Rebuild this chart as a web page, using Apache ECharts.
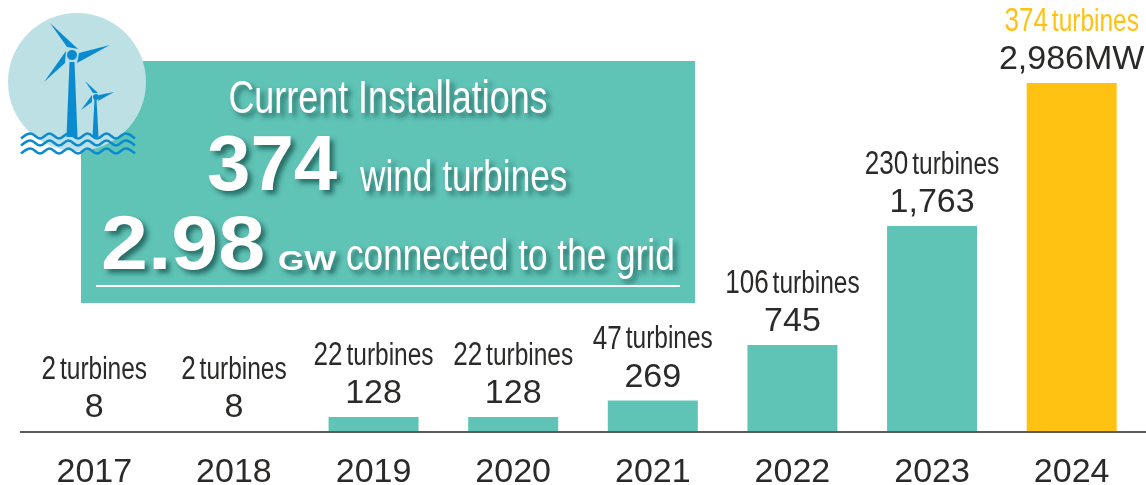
<!DOCTYPE html>
<html><head><meta charset="utf-8">
<style>html,body{margin:0;padding:0;background:#fff}#c{width:1146px;height:485px}</style>
<script src="https://cdn.jsdelivr.net/npm/echarts@6/dist/echarts.min.js"></script>
</head><body><div id="c"></div>
<script>
const years = ['2017','2018','2019','2020','2021','2022','2023','2024'];
const megawatts = [8,8,128,128,269,745,1763,2986];
const turbines = [2,2,22,22,47,106,230,374];
const TEAL='#5fc3b6', AMBER='#ffc212', INK='#2b2a29', BLUE='#0a8bd0', SKY='#bde0e5';
const SANS='"Liberation Sans",Arial,sans-serif';

const chart = echarts.init(document.getElementById('c'),null,{renderer:'canvas'});
function poly(points){ return {type:'polygon',z:14,shape:{points:points},style:{fill:BLUE}}; }
function wave(y){
  const pts=[];
  for(let k=0;k<=12;k++){ pts.push([21+k*9.5, y+(k%2?-2.5:2.5)]); }
  return {type:'polyline',z:15,shape:{points:pts,smooth:0.4},style:{fill:'none',stroke:BLUE,lineWidth:2.5}};
}
const shadow={textShadowColor:'rgba(20,80,75,.75)',textShadowBlur:5,textShadowOffsetX:4,textShadowOffsetY:4};
function txt(x,baseline,text,font,size,sx,align){
  return {type:'text',z:12,x:x,y:baseline-.83*size,scaleX:sx,
    style:Object.assign({text:text,font:font+' '+size+'px '+SANS,fill:'#fff',align:align||'left',verticalAlign:'top'},shadow)};
}
const graphic=[
  {type:'rect',z:5,shape:{x:81,y:61,width:614,height:242},style:{fill:TEAL}},
  {type:'circle',z:10,shape:{cx:77,cy:82,r:69},style:{fill:SKY}},
  poly([[69.5,62],[74.5,62],[77.5,137],[66.5,137]]),
  poly([[50,23],[78,49],[67,47]]),poly([[110,45],[77,63],[79,53]]),poly([[44,82],[66,51],[65,63]]),
  {type:'circle',z:14,shape:{cx:72,cy:55,r:5.5},style:{fill:BLUE,stroke:SKY,lineWidth:1}},
  poly([[94.5,99],[96.5,99],[98.5,137],[92.5,137]]),
  poly([[85,81],[98,93],[93,93]]),poly([[114,92],[98,101],[99,95]]),poly([[81,110],[92,95],[92,102]]),
  {type:'circle',z:14,shape:{cx:96,cy:97,r:3},style:{fill:BLUE}},
  wave(136),wave(143),wave(151),
  txt(388,115,'Current Installations','normal',46,.78,'center'),
  txt(207,194,'374','bold',78,1),
  txt(360,193,'wind turbines','normal',44,.80),
  txt(101,273,'2.98','bold',76,1.11),
  txt(278,271,'GW','bold',27,1.25),
  txt(346,272,'connected to the grid','normal',44,.80),
  {type:'line',z:12,shape:{x1:96,y1:286,x2:680,y2:286},style:{stroke:'#fff',lineWidth:2}},
  {type:'line',z:20,shape:{x1:20,y1:432,x2:1146,y2:432},style:{stroke:'#5a5a5a',lineWidth:2}}
];
const last=years.length-1;
function labelItem(params,api){
  const i=params.dataIndex, p=api.coord([api.value(0),api.value(1)]);
  const amber=i===last, base=p[1]-12;
  const mw=megawatts[i].toLocaleString('en-US')+(amber?'MW':'');
  const col=amber?AMBER:INK;
  return {type:'group',children:[
    {type:'text',x:p[0],y:base-38-.83*33,scaleX:.79,style:{
      text:'{n|'+turbines[i]+'}{t|turbines}',align:'center',verticalAlign:'top',
      rich:{n:{fontFamily:SANS,fontSize:33,fill:col,color:col,lineHeight:33},
            t:{fontFamily:SANS,fontSize:31,fill:col,color:col,lineHeight:33,padding:[0,0,0,5]}}}},
    {type:'text',x:p[0],y:base-.83*34,style:{text:mw,font:'34px '+SANS,fill:INK,align:'center',verticalAlign:'top'}}
  ]};
}
chart.setOption({
  animation:false,
  grid:{left:24.5,width:1117,top:83,bottom:53,outerBoundsMode:'none'},
  graphic:graphic,
  xAxis:{type:'category',data:years,axisTick:{show:false},axisLine:{show:false},
    axisLabel:{color:INK,fontFamily:SANS,fontSize:34,margin:24}},
  yAxis:{type:'value',min:0,max:2986,show:false},
  series:[
    {type:'bar',barWidth:90,z:3,
     data:megawatts.map((v,i)=>({value:v,itemStyle:{color:i===last?AMBER:TEAL}}))},
    {type:'custom',z:4,clip:false,silent:true,renderItem:labelItem,
     data:megawatts.map((v,i)=>[i,v]),encode:{x:0,y:1}}
  ]
});
</script></body></html>
